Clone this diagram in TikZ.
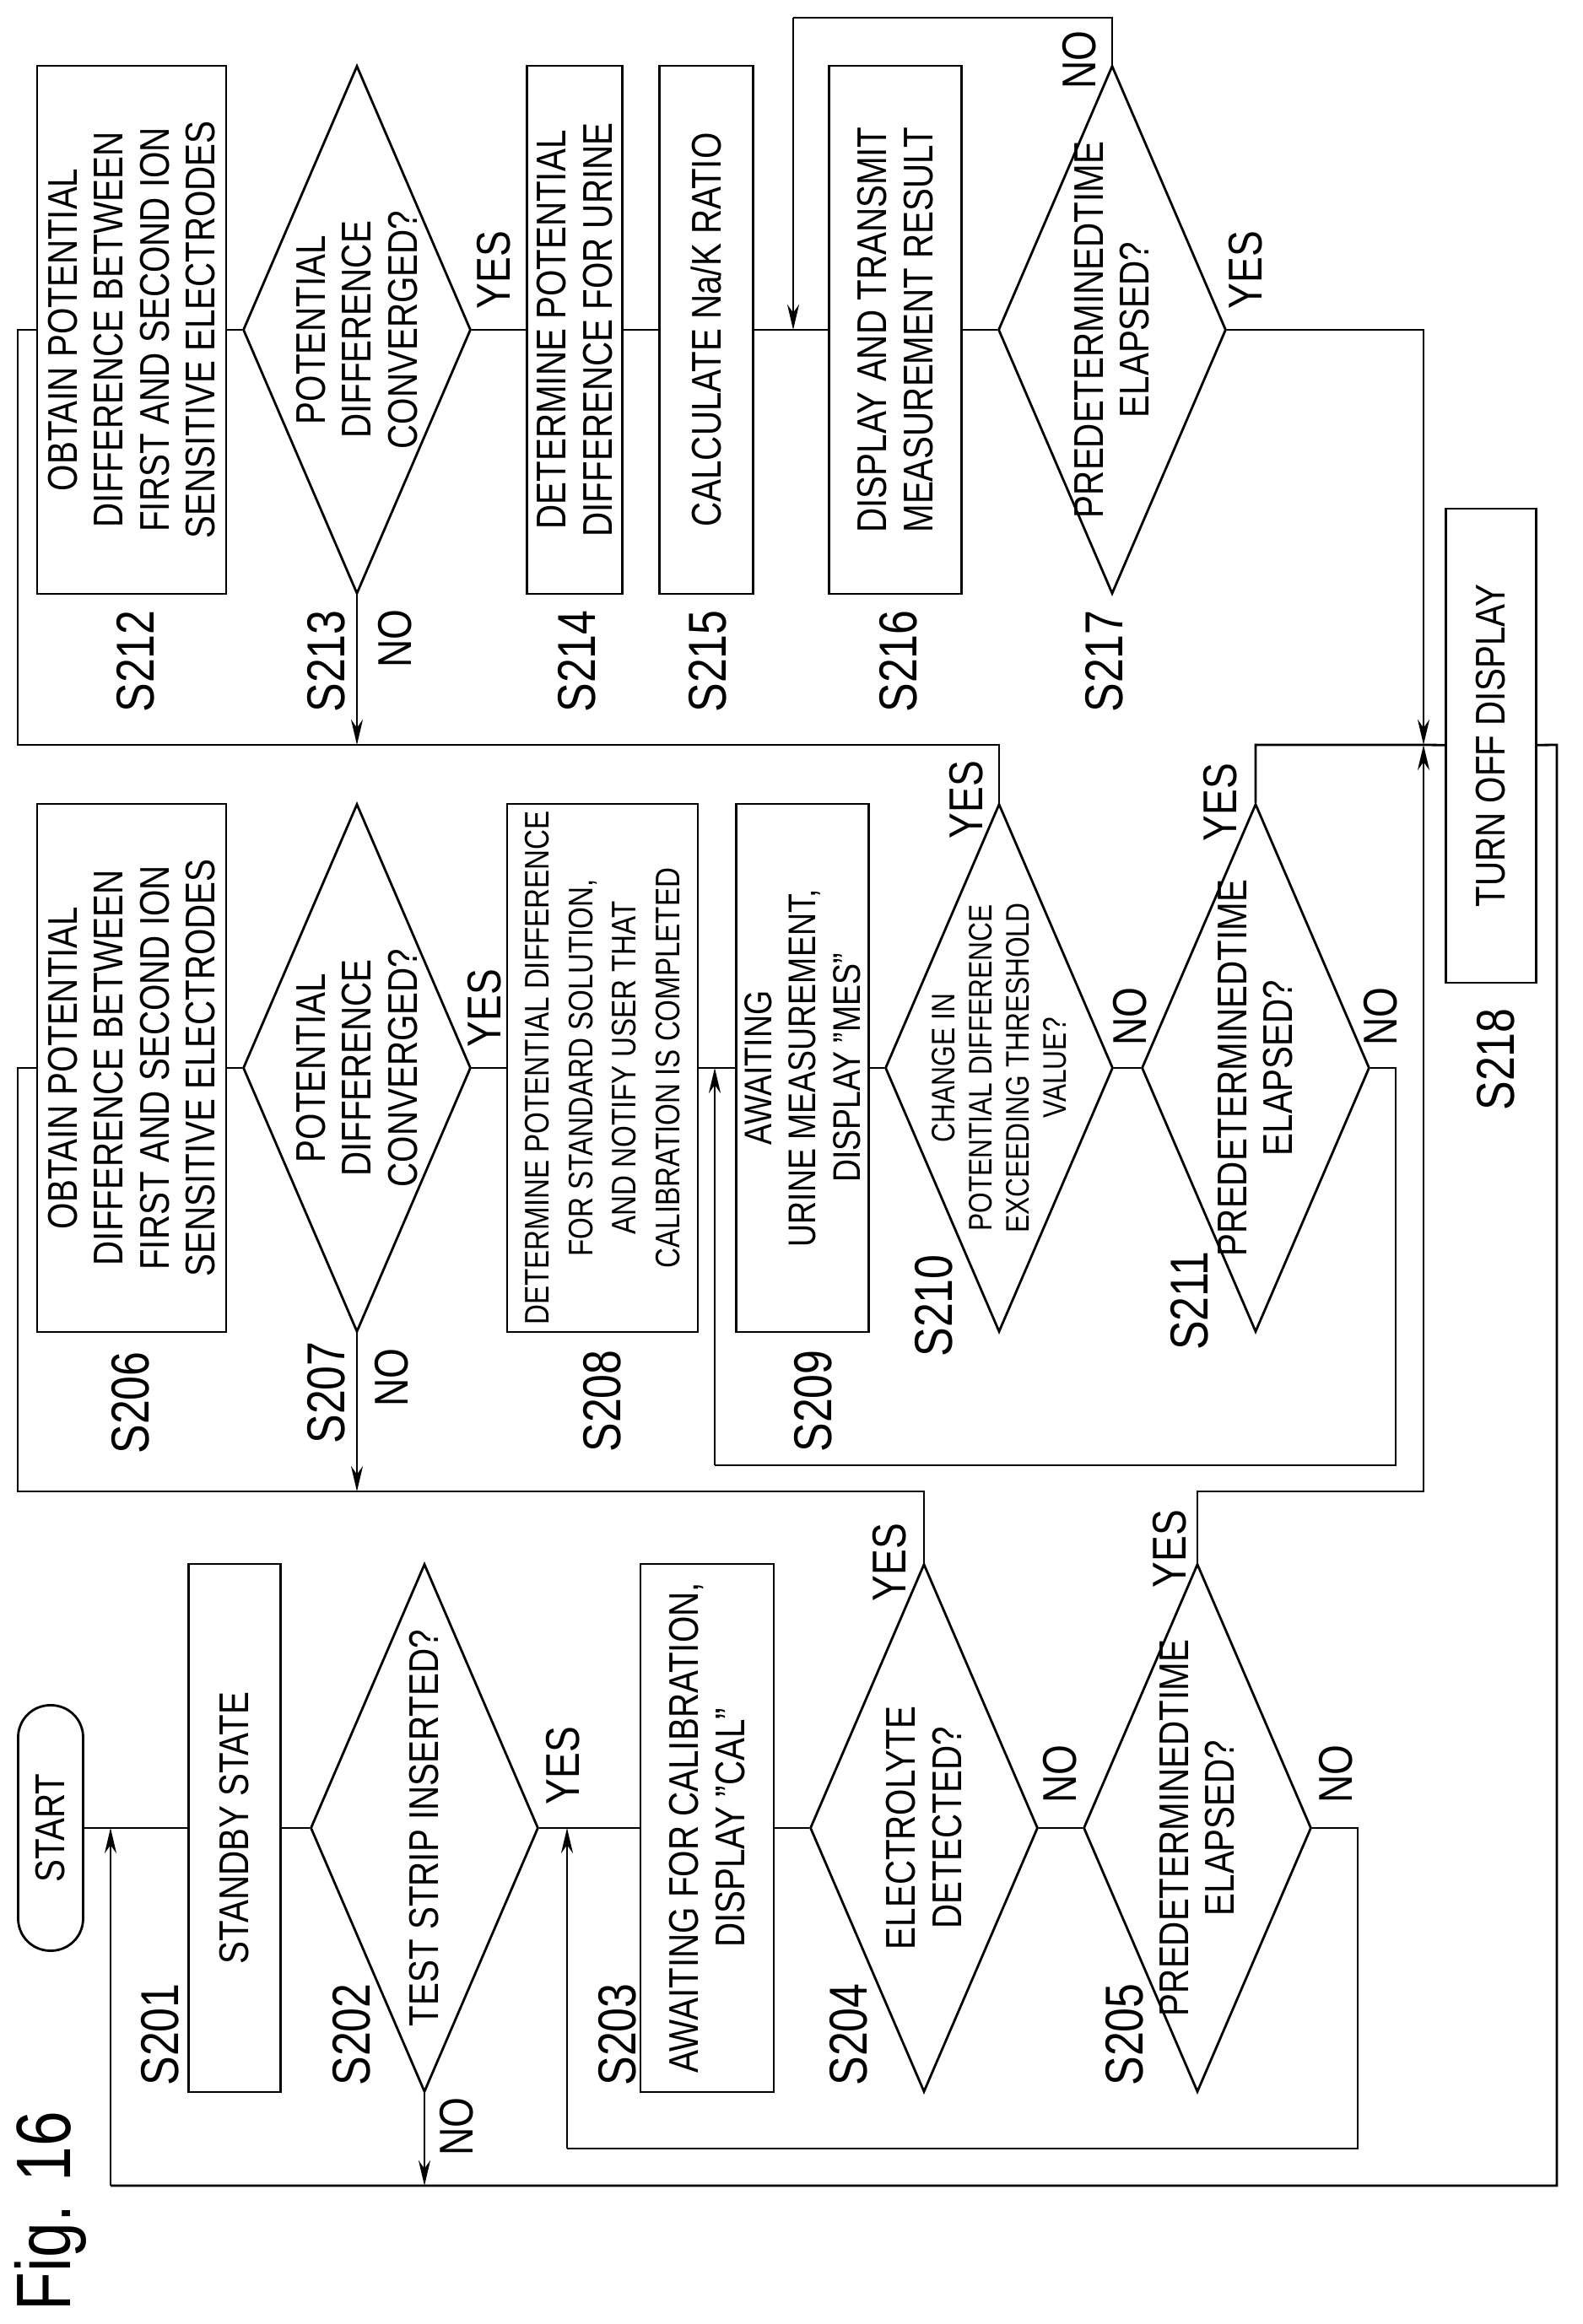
\documentclass[tikz,border=0pt]{standalone}
\usepackage{fontspec}
\setmainfont{Liberation Sans}[FakeStretch=0.82]
\usetikzlibrary{shapes.geometric,arrows.meta}
\tikzset{
  box/.style={draw, line width=0.8pt, minimum width=62.6mm, align=center, inner sep=0pt,
    font=\fontsize{14}{15.4}\selectfont},
  dec/.style={draw, line width=0.8pt, diamond, aspect=2.3, minimum width=62.6mm,
    minimum height=27mm, inner sep=0pt},
  dtxt/.style={align=center, font=\fontsize{14}{15.4}\selectfont},
  stp/.style={font=\fontsize{18}{20}\selectfont},
  yn/.style={font=\fontsize{16}{18}\selectfont},
  arr/.style={-{Stealth[length=3mm,width=1.4mm]}}
}
\begin{document}
\begin{tikzpicture}[x=0.1mm,y=0.1mm,rotate=90,transform shape,line width=0.8pt]
\useasboundingbox (0,0) rectangle (2755,-1875);
\node[font=\fontsize{26}{28}\selectfont] (fig) at (134,-60) {Fig. 16};

% first column
\node[draw, rounded corners=3.8mm, minimum width=29.1mm, minimum height=7.7mm,
  font=\fontsize{14}{15.4}\selectfont] (start) at (588,-60) {START};
\node[box, minimum height=10.9mm] (s201) at (588,-278) {STANDBY STATE};
\node[dec, label={[dtxt]center:TEST STRIP INSERTED?}] (s202) at (588,-503) {};
\node[box, minimum height=15.8mm] (s203) at (588,-838) {AWAITING FOR CALIBRATION,\\DISPLAY ”CAL”};
\node[dec, label={[dtxt]center:ELECTROLYTE\\DETECTED?}] (s204) at (588,-1095) {};
\node[dec, label={[dtxt]center:PREDETERMINEDTIME\\ELAPSED?}] (s205) at (588,-1419) {};

% second column
\node[box, minimum height=22.4mm] (s206) at (1489,-156) {OBTAIN POTENTIAL\\DIFFERENCE BETWEEN\\FIRST AND SECOND ION\\SENSITIVE ELECTRODES};
\node[dec, label={[dtxt]center:POTENTIAL\\DIFFERENCE\\CONVERGED?}] (s207) at (1489,-423) {};
\node[box, minimum height=22.6mm, font=\fontsize{11.5}{14.7}\selectfont] (s208) at (1489,-714)
  {DETERMINE POTENTIAL DIFFERENCE\\FOR STANDARD SOLUTION,\\AND NOTIFY USER THAT\\CALIBRATION IS COMPLETED};
\node[box, minimum height=15.7mm, font=\fontsize{13}{15}\selectfont] (s209) at (1489,-951) {AWAITING\\URINE MEASUREMENT,\\DISPLAY ”MES”};
\node[dec, label={[dtxt, font=\fontsize{11}{12.5}\selectfont]center:CHANGE IN\\POTENTIAL DIFFERENCE\\EXCEEDING THRESHOLD\\VALUE?}] (s210) at (1489,-1184) {};
\node[dec, label={[dtxt]center:PREDETERMINEDTIME\\ELAPSED?}] (s211) at (1489,-1488) {};
\node[box, minimum width=56.2mm, minimum height=10.7mm] (off) at (1871,-1767) {TURN OFF DISPLAY};

% third column
\node[box, minimum height=22.4mm] (s212) at (2364,-156) {OBTAIN POTENTIAL\\DIFFERENCE BETWEEN\\FIRST AND SECOND ION\\SENSITIVE ELECTRODES};
\node[dec, label={[dtxt]center:POTENTIAL\\DIFFERENCE\\CONVERGED?}] (s213) at (2364,-423) {};
\node[box, minimum height=11.3mm] (s214) at (2364,-681) {DETERMINE POTENTIAL\\DIFFERENCE FOR URINE};
\node[box, minimum height=11.1mm] (s215) at (2364,-837) {CALCULATE Na/K RATIO};
\node[box, minimum height=15.7mm] (s216) at (2364,-1061) {DISPLAY AND TRANSMIT\\MEASUREMENT RESULT};
\node[dec, label={[dtxt]center:PREDETERMINEDTIME\\ELAPSED?}] (s217) at (2364,-1318) {};

% step labels
\foreach \n/\u/\v in {201/343/-190, 202/343/-417, 203/343/-732, 204/343/-1006, 205/343/-1333,
  206/1092/-155, 207/1104/-387, 208/1094/-714, 209/1094/-964, 210/1207/-1107, 211/1213/-1410,
  218/1499/-1773, 212/1971/-161, 213/1971/-387, 214/1971/-684, 215/1971/-839, 216/1971/-1065,
  217/1971/-1309}
  \node[stp] (l\n) at (\u,\v) {S\n};
\foreach \n/\u/\v in {202/662/-667, 204/903/-1054, 205/919/-1386, 207/1560/-574,
  210/1807/-1145, 211/1804/-1446, 213/2435/-585, 217/2435/-1476}
  \node[yn] (y\n) at (\u,\v) {YES};
\foreach \n/\u/\v in {202/234/-541, 204/652/-1256, 205/652/-1583, 207/1122/-464,
  210/1550/-1339, 211/1550/-1636, 213/1998/-468, 217/2684/-1279}
  \node[yn] (n\n) at (\u,\v) {NO};

% bends
\coordinate (j1) at (588,-131);  \coordinate (bl) at (164,-131);
\coordinate (br) at (164,-1845); \coordinate (tr) at (1872,-1845);
\coordinate (e202) at (164,-503);
\coordinate (j2) at (588,-672);  \coordinate (a1) at (208,-672);
\coordinate (a2) at (208,-1609); \coordinate (a3) at (588,-1609);
\coordinate (b1) at (987,-1095); \coordinate (b2) at (987,-21); \coordinate (b3) at (1489,-21);
\coordinate (e207) at (987,-423);
\coordinate (c1) at (987,-1419); \coordinate (c2) at (987,-1687); \coordinate (jt) at (1872,-1687);
\coordinate (c3) at (1872,-1488);
\coordinate (j3) at (1489,-847); \coordinate (d1) at (1489,-1654);
\coordinate (d2) at (1018,-1654); \coordinate (d3) at (1018,-847);
\coordinate (f1) at (1872,-1184); \coordinate (f2) at (1872,-21); \coordinate (f3) at (2364,-21);
\coordinate (e213) at (1872,-423);
\coordinate (j4) at (2364,-940); \coordinate (g1) at (2734,-1318); \coordinate (g2) at (2734,-940);
\coordinate (h1) at (2364,-1687);

\draw (start) -- (s201) -- (s202) -- (s203) -- (s204) -- (s205);
\draw (s205) -- (a3) -- (a2) -- (a1);
\draw[arr] (a1) -- (j2);
\draw[arr] (s202) -- (e202);
\draw (off) -- (tr) -- (br) -- (bl);
\draw[arr] (bl) -- (j1);
\draw (s204) -- (b1) -- (b2) -- (b3) -- (s206);
\draw[arr] (s207) -- (e207);
\draw[arr] (s205) -- (c1) -- (c2) -- (jt);
\draw (s211) -- (c3) -- (jt) -- (off);

\draw (s206) -- (s207) -- (s208) -- (s209) -- (s210) -- (s211);
\draw (s211) -- (d1) -- (d2) -- (d3);
\draw[arr] (d3) -- (j3);
\draw (s210) -- (f1) -- (f2) -- (f3) -- (s212);
\draw[arr] (s213) -- (e213);

\draw (s212) -- (s213) -- (s214) -- (s215) -- (s216) -- (s217);
\draw (s217) -- (g1) -- (g2);
\draw[arr] (g2) -- (j4);
\draw[arr] (s217) -- (h1) -- (jt);
\end{tikzpicture}
\end{document}
